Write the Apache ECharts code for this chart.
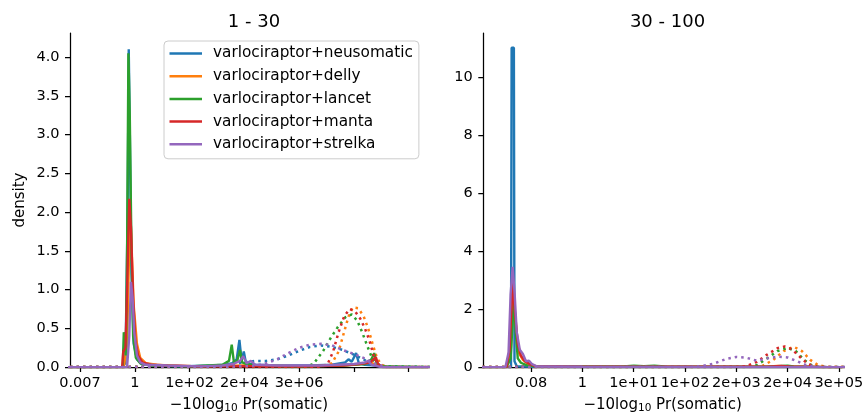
<!DOCTYPE html>
<html><head><meta charset="utf-8">
<script src="https://cdn.jsdelivr.net/npm/echarts@6/dist/echarts.min.js"></script>
<style>html,body{margin:0;padding:0;background:#fff}#c{width:867px;height:419px}</style>
</head><body><div id="c"></div>
<script>
// x values are natural-log units of -10log10 Pr(somatic)
const callers = ['varlociraptor+neusomatic','varlociraptor+delly','varlociraptor+lancet','varlociraptor+manta','varlociraptor+strelka'];
const colors = ['#1f77b4','#ff7f0e','#2ca02c','#d62728','#9467bd'];
const panelTitles = ['1 - 30','30 - 100'];
const xTicksLeft = [-5,0,5,10,15,20,25];
const xTickLabelsLeft = ['0.007','1','1e+02','2e+04','3e+06','',''];
const xTicksRight = [-2.5,0,2.5,5,7.5,10,12.5];
const xTickLabelsRight = ['0.08','1','1e+01','1e+02','2e+03','2e+04','3e+05'];
const yTicksLeft = [0,0.5,1,1.5,2,2.5,3,3.5,4];
const yTicksRight = [0,2,4,6,8,10];

// ---- left panel (1 - 30), solid ----
const neusomaticSolidLeft = [[-6.5,0],[-1.2,0],[-0.85,0.05],[-0.65,2.0],[-0.55,4.1],[-0.45,3.0],[-0.3,1.2],[-0.1,0.3],[0.2,0.1],[0.6,0.04],[1.5,0.02],[4,0.01],[7,0.02],[8.3,0.03],[8.9,0.05],[9.3,0.1],[9.55,0.35],[9.75,0.08],[9.95,0.2],[10.15,0.05],[11,0.03],[13,0.02],[16,0.02],[18,0.03],[19.2,0.06],[19.5,0.1],[19.8,0.07],[20.2,0.18],[20.45,0.05],[21,0.03],[22,0.02],[23,0],[27,0]];
const dellySolidLeft = [[-6.5,0],[-1.0,0],[-0.7,0.3],[-0.5,1.6],[-0.4,2.0],[-0.3,1.6],[-0.1,0.8],[0.2,0.3],[0.5,0.12],[1,0.05],[2,0.03],[3,0.02],[6,0.01],[10,0.02],[15,0.01],[19,0.02],[20.5,0.04],[21.5,0.06],[22,0.03],[23,0],[27,0]];
const lancetSolidLeft = [[-6.5,0],[-1.1,0],[-1.0,0.45],[-0.9,0.45],[-0.8,0.15],[-0.7,1.5],[-0.58,4.05],[-0.45,3.2],[-0.3,1.5],[-0.15,0.4],[0.1,0.12],[0.5,0.05],[1.5,0.02],[5,0.01],[8,0.03],[8.6,0.08],[8.85,0.29],[9.05,0.06],[9.35,0.08],[9.6,0.22],[9.8,0.06],[10.2,0.04],[11,0.02],[15,0.01],[19,0.02],[21,0.04],[21.6,0.1],[21.85,0.18],[22.05,0.06],[22.5,0.01],[27,0]];
const mantaSolidLeft = [[-6.5,0],[-1.15,0],[-1.05,0.2],[-0.85,0.25],[-0.7,1.0],[-0.5,2.17],[-0.35,1.8],[-0.15,0.9],[0.05,0.35],[0.3,0.15],[0.7,0.06],[1.5,0.03],[3,0.02],[6,0.01],[10,0.01],[15,0.01],[19,0.02],[20.5,0.04],[21.5,0.06],[22.0,0.13],[22.2,0.04],[22.6,0],[27,0]];
const strelkaSolidLeft = [[-6.5,0],[-0.7,0],[-0.5,0.4],[-0.35,1.1],[-0.2,0.9],[-0.05,0.45],[0.2,0.15],[0.5,0.06],[1,0.03],[3,0.02],[6,0.01],[8,0.02],[9,0.04],[9.6,0.08],[9.9,0.14],[10.2,0.05],[10.6,0.08],[11,0.03],[13,0.02],[17,0.02],[20,0.04],[21,0.06],[21.3,0.08],[21.6,0.03],[22.5,0],[27,0]];
// ---- left panel, dotted ----
const neusomaticDottedLeft = [[-6.5,0],[5,0.005],[8,0.02],[10,0.06],[11,0.08],[12,0.08],[13,0.1],[14,0.15],[15,0.21],[16,0.26],[17,0.28],[18,0.26],[19,0.22],[20,0.16],[21,0.09],[22,0.03],[23,0.01],[27,0]];
const dellyDottedLeft = [[-6.5,0],[10,0],[17,0.01],[18,0.05],[18.6,0.2],[19.1,0.45],[19.5,0.65],[19.9,0.77],[20.4,0.76],[20.9,0.65],[21.3,0.5],[21.7,0.3],[22.1,0.12],[22.5,0.03],[23,0],[27,0]];
const lancetDottedLeft = [[-6.5,0],[15.5,0],[16.3,0.04],[17.2,0.21],[17.9,0.38],[18.5,0.51],[19.2,0.64],[19.8,0.68],[20.3,0.6],[20.75,0.45],[21.2,0.28],[21.7,0.1],[22.2,0.02],[22.6,0],[27,0]];
const mantaDottedLeft = [[-6.5,0],[17,0],[17.6,0.04],[18.1,0.2],[18.6,0.45],[19.1,0.65],[19.6,0.75],[20.1,0.72],[20.6,0.62],[21.0,0.5],[21.4,0.35],[21.8,0.15],[22.2,0.03],[22.6,0],[27,0]];
const strelkaDottedLeft = [[-6.5,0],[8,0],[11,0.02],[12,0.05],[13,0.1],[14,0.18],[15,0.25],[16,0.29],[17,0.3],[18,0.28],[19,0.22],[20,0.17],[21,0.11],[22,0.04],[23,0],[27,0]];

// ---- right panel (30 - 100), solid ----
const neusomaticSolidRight = [[-5.5,0],[-3.48,0],[-3.45,11],[-3.34,11],[-3.31,0.2],[-3.2,0.03],[-2.5,0.01],[0,0],[13,0]];
const dellySolidRight = [[-5.5,0],[-3.7,0],[-3.5,0.4],[-3.38,2.6],[-3.25,1.5],[-3.1,0.5],[-2.9,0.25],[-2.6,0.08],[-2.2,0.02],[9,0.01],[9.5,0.04],[10,0.02],[12,0],[13,0]];
const lancetSolidRight = [[-5.5,0],[-3.7,0],[-3.5,0.3],[-3.33,2.4],[-3.25,1.2],[-3.15,0.3],[-3.0,0.15],[-2.7,0.06],[-2.2,0.02],[2,0.02],[2.5,0.05],[3,0.03],[3.5,0.05],[4,0.02],[9,0.01],[10,0.05],[10.3,0.02],[12,0],[13,0]];
const mantaSolidRight = [[-5.5,0],[-3.7,0],[-3.55,0.6],[-3.4,2.9],[-3.3,2.0],[-3.15,0.8],[-3.0,0.4],[-2.8,0.2],[-2.6,0.12],[-2.3,0.03],[0,0.01],[9,0.01],[9.7,0.04],[10.1,0.02],[12,0],[13,0]];
const strelkaSolidRight = [[-5.5,0],[-3.75,0],[-3.6,0.5],[-3.5,2.5],[-3.4,3.45],[-3.3,2.5],[-3.2,1.2],[-3.05,0.6],[-2.9,0.45],[-2.75,0.2],[-2.6,0.22],[-2.45,0.1],[-2.2,0.02],[0,0.01],[13,0]];
// ---- right panel, dotted ----
const dellyDottedRight = [[-5.5,0],[8.3,0],[8.8,0.05],[9.3,0.25],[9.8,0.55],[10.3,0.7],[10.7,0.55],[11.1,0.25],[11.5,0.06],[12,0],[13,0]];
const lancetDottedRight = [[-5.5,0],[8.0,0],[8.5,0.07],[9.0,0.3],[9.5,0.55],[10.0,0.66],[10.4,0.55],[10.8,0.25],[11.2,0.05],[11.6,0],[13,0]];
const mantaDottedRight = [[-5.5,0],[7.5,0],[8.0,0.04],[8.5,0.18],[9.0,0.43],[9.5,0.65],[9.85,0.71],[10.2,0.62],[10.6,0.35],[11.0,0.1],[11.4,0.01],[12,0],[13,0]];
const strelkaDottedRight = [[-5.5,0],[5,0],[5.7,0.02],[6.4,0.12],[7.0,0.28],[7.5,0.35],[8.0,0.32],[8.5,0.22],[9.0,0.3],[9.5,0.36],[10.0,0.33],[10.4,0.22],[10.9,0.07],[11.4,0.01],[12,0],[13,0]];

const solidLeft = [neusomaticSolidLeft, dellySolidLeft, lancetSolidLeft, mantaSolidLeft, strelkaSolidLeft];
const dottedLeft = [neusomaticDottedLeft, dellyDottedLeft, lancetDottedLeft, mantaDottedLeft, strelkaDottedLeft];
const solidRight = [neusomaticSolidRight, dellySolidRight, lancetSolidRight, mantaSolidRight, strelkaSolidRight];
const dottedRight = [null, dellyDottedRight, lancetDottedRight, mantaDottedRight, strelkaDottedRight];

const FONT = 'DejaVu Sans';
const series = [];
function addLine(data, i, axis, dotted) {
  if (!data) return;
  series.push({
    type: 'line', name: callers[i], xAxisIndex: axis, yAxisIndex: axis,
    data: data, symbol: 'none', showSymbol: false, smooth: false, animation: false,
    color: colors[i], z: 2 + i,
    lineStyle: { width: dotted ? 2.5 : 2.4, color: colors[i], type: dotted ? [2.5, 4] : 'solid', cap: 'butt' }
  });
}
[[solidLeft, 0, false], [solidRight, 1, false]].forEach(([arr, ax, d]) => arr.forEach((s, i) => addLine(s, i, ax, d)));
[[dottedLeft, 0, true], [dottedRight, 1, true]].forEach(([arr, ax, d]) => arr.forEach((s, i) => addLine(s, i, ax, d)));

const axisLineStyle = { show: true, onZero: false, lineStyle: { color: '#000', width: 1.25 } };
const tickStyle = { show: true, length: 5, lineStyle: { color: '#000', width: 1.25 } };
const nameRich = { sub: { fontSize: 10.5, lineHeight: 10.5, verticalAlign: 'bottom', fontFamily: FONT, color: '#000' } };
function xAxis(idx, min, max, ticks, labels) {
  return {
    type: 'value', gridIndex: idx, min: min, max: max,
    name: '\u221210log{sub|10} Pr(somatic)', nameLocation: 'middle', nameGap: 27,
    nameTextStyle: { fontSize: 15, lineHeight: 18, color: '#000', fontFamily: FONT, rich: nameRich },
    axisLine: axisLineStyle, splitLine: { show: false },
    axisTick: Object.assign({ customValues: ticks }, tickStyle),
    axisLabel: { customValues: ticks, margin: 9, fontSize: 14.5, color: '#000', fontFamily: FONT,
      formatter: v => { const k = ticks.findIndex(t => Math.abs(t - v) < 1e-6); return k >= 0 ? labels[k] : ''; } }
  };
}
function yAxis(idx, max, ticks, fmt, name) {
  return {
    type: 'value', gridIndex: idx, min: 0, max: max,
    name: name, nameLocation: 'middle', nameGap: 42, nameRotate: 90,
    nameTextStyle: { fontSize: 15, color: '#000', fontFamily: FONT },
    axisLine: axisLineStyle, splitLine: { show: false },
    axisTick: Object.assign({ customValues: ticks }, tickStyle),
    axisLabel: { customValues: ticks, margin: 10.5, fontSize: 14.5, color: '#000', fontFamily: FONT, formatter: fmt }
  };
}

const chart = echarts.init(document.getElementById('c'), null, { renderer: 'canvas' });
chart.setOption({
  animation: false,
  backgroundColor: '#fff',
  textStyle: { fontFamily: FONT },
  title: [
    { text: panelTitles[0], left: 249, top: 8, textAlign: 'center', textStyle: { fontSize: 18, fontWeight: 'normal', color: '#000', fontFamily: FONT } },
    { text: panelTitles[1], left: 662.5, top: 8, textAlign: 'center', textStyle: { fontSize: 18, fontWeight: 'normal', color: '#000', fontFamily: FONT } }
  ],
  legend: {
    data: callers.map((n, i) => ({ name: n, icon: 'rect', itemStyle: { color: colors[i] } })),
    orient: 'vertical', left: 164, top: 41,
    padding: [5, 6, 7, 5.5], itemGap: 7.7, itemWidth: 32.5, itemHeight: 2.5,
    backgroundColor: 'rgba(255,255,255,0.8)', borderColor: '#cccccc', borderWidth: 1, borderRadius: 4,
    textStyle: { fontSize: 15.3, lineHeight: 15, color: '#000', fontFamily: FONT, padding: [0,0,0,6] },
    selectedMode: false
  },
  grid: [
    { left: 70, top: 33, width: 358, height: 335, containLabel: false },
    { left: 483.3, top: 33, width: 358.7, height: 335, containLabel: false }
  ],
  xAxis: [
    xAxis(0, -5.91, 26.76, xTicksLeft, xTickLabelsLeft),
    xAxis(1, -4.83, 12.65, xTicksRight, xTickLabelsRight)
  ],
  yAxis: [
    yAxis(0, 4.31, yTicksLeft, v => v.toFixed(1), 'density'),
    yAxis(1, 11.51, yTicksRight, v => String(Math.round(v)), '')
  ],
  series: series
});
</script></body></html>
